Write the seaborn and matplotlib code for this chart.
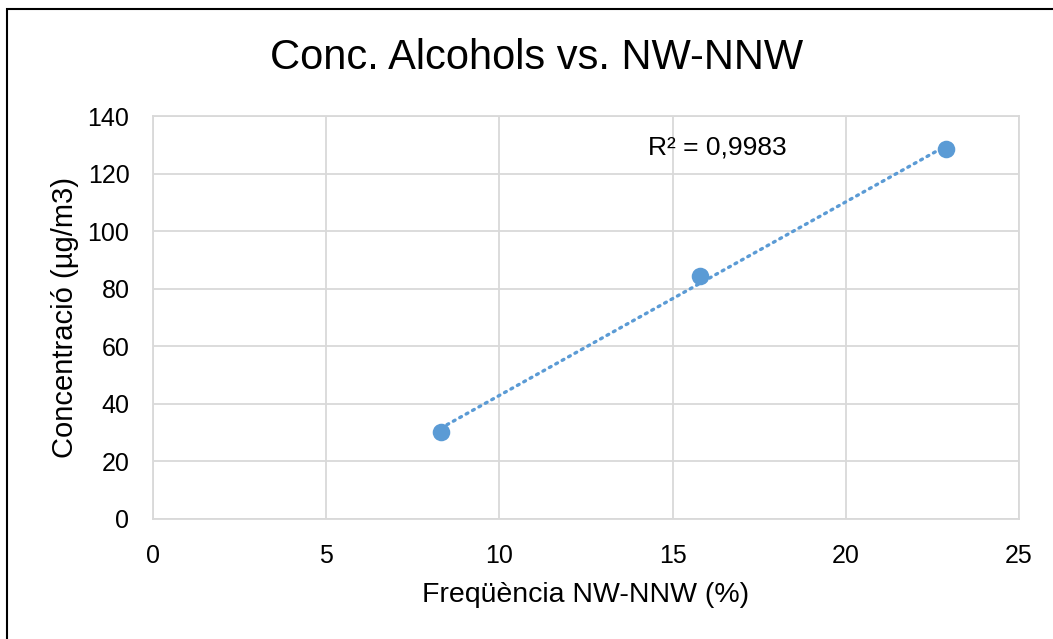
import numpy as np
import pandas as pd
import matplotlib
matplotlib.use("Agg")
import matplotlib.pyplot as plt
from matplotlib.patches import Rectangle
import seaborn as sns

# values
freq_nw = [8.3, 15.8, 22.9]
conc_alcohols = [30.3, 84.4, 128.4]
r2_label = "R² = 0,9983"

x_ticks = [0, 5, 10, 15, 20, 25]
y_ticks = [0, 20, 40, 60, 80, 100, 120, 140]

BLUE = "#5B9BD5"
GRID = "#D9D9D9"

df = pd.DataFrame({"freq": freq_nw, "conc": conc_alcohols})

sns.set_style("white")
plt.rcParams["font.family"] = ["Liberation Sans", "DejaVu Sans"]
plt.rcParams["text.color"] = "black"
plt.rcParams["axes.labelcolor"] = "black"

fig = plt.figure(figsize=(10.53, 6.39), dpi=100)
ax = fig.add_axes([153 / 1053, 1 - 519 / 639, (1019 - 153) / 1053, (519 - 116) / 639])

# linear trendline (Excel style, dotted)
sns.regplot(data=df, x="freq", y="conc", ax=ax, ci=None, scatter=False, truncate=True,
            line_kws=dict(color=BLUE, linestyle=(0, (0.6, 1.6)), linewidth=2.4,
                          dash_capstyle="round"))
sns.scatterplot(data=df, x="freq", y="conc", ax=ax, color=BLUE, s=160,
                edgecolor=BLUE, linewidth=0, zorder=3)

ax.set_xlim(0, 25)
ax.set_ylim(0, 140)
ax.set_xticks(x_ticks)
ax.set_yticks(y_ticks)
ax.grid(True, color=GRID, linewidth=1.3)
ax.set_axisbelow(True)
for s in ax.spines.values():
    s.set_color(GRID)
    s.set_linewidth(1.3)
ax.tick_params(axis="x", length=0, labelsize=18, colors="black", pad=18)
ax.tick_params(axis="y", length=0, labelsize=18, colors="black", pad=17)

ax.set_xlabel("Freqüència NW-NNW (%)", fontsize=20.5, labelpad=10)
ax.set_ylabel("Concentració (µg/m3)", fontsize=21, labelpad=6)

fig.text(537 / 1053, 1 - 58 / 639, "Conc. Alcohols vs. NW-NNW", fontsize=30,
         ha="center", va="center")

ax.text(16.3, 128.9, r2_label, fontsize=19, ha="center", va="center")

# chart-area border (only top/left edges fall inside the image)
fig.patches.append(Rectangle((7 / 1053, -0.05), 1.2, 1 - 9 / 639 + 0.05,
                             transform=fig.transFigure, fill=False,
                             edgecolor="black", linewidth=1.5))

fig.savefig("out.png", dpi=100)
